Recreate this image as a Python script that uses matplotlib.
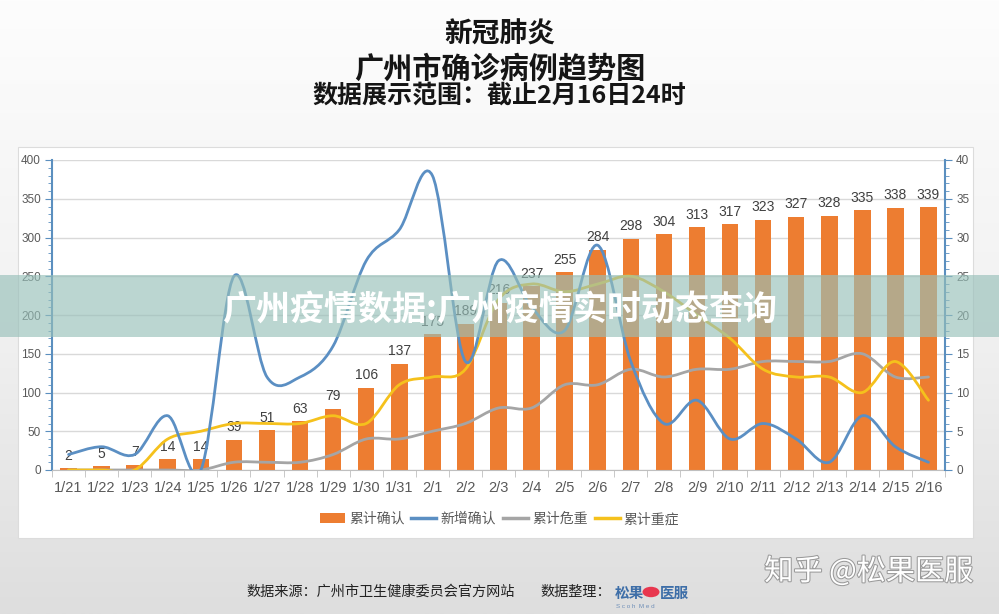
import numpy as np
import matplotlib
matplotlib.use('Agg')
import matplotlib.pyplot as plt
from matplotlib.path import Path
from matplotlib.patches import PathPatch, Rectangle, Circle, Patch
from matplotlib.lines import Line2D
from matplotlib.ticker import MultipleLocator
from matplotlib.colors import LinearSegmentedColormap
import matplotlib.patheffects as pe

plt.rcParams['font.family'] = ['Liberation Sans', 'Noto Sans CJK SC', 'DejaVu Sans']

dates = ['1/21', '1/22', '1/23', '1/24', '1/25', '1/26', '1/27', '1/28', '1/29',
         '1/30', '1/31', '2/1', '2/2', '2/3', '2/4', '2/5', '2/6', '2/7', '2/8',
         '2/9', '2/10', '2/11', '2/12', '2/13', '2/14', '2/15', '2/16']
total_confirmed = [2, 5, 7, 14, 14, 39, 51, 63, 79, 106, 137, 175, 189, 216, 237,
                   255, 284, 298, 304, 313, 317, 323, 327, 328, 335, 338, 339]
new_confirmed = [2, 3, 2, 7, 0, 25, 12, 12, 16, 27, 31, 38, 14, 27, 21, 18, 29,
                 14, 6, 9, 4, 6, 4, 1, 7, 3, 1]
total_critical = [0, 0, 0, 0, 0, 1, 1, 1, 2, 4, 4, 5, 6, 8, 8, 11, 11, 13, 12,
                  13, 13, 14, 14, 14, 15, 12, 12]
total_severe = [0, 0, 0, 4, 5, 6, 6, 6, 7, 6, 11, 12, 13, 22, 24, 23, 24, 25, 23,
                20, 17, 13, 12, 12, 10, 14, 9]

legend_labels = ['累计确认', '新增确认', '累计危重', '累计重症']
c_bar = '#ed7d31'
c_new = '#5b8fc3'
c_crit = '#a5a5a5'
c_sev = '#f5c11c'
c_axis = '#5b8fbf'
c_tick = '#595959'


def smooth_path(xs, ys):
    # Catmull-Rom style curve, like the "smoothed line" option of office charts
    pts = np.column_stack([xs, ys]).astype(float)
    ext = np.vstack([pts[0], pts, pts[-1]])
    verts = [pts[0]]
    codes = [Path.MOVETO]
    for i in range(len(pts) - 1):
        p0, p1, p2, p3 = ext[i], ext[i + 1], ext[i + 2], ext[i + 3]
        verts += [p1 + (p2 - p0) / 6, p2 - (p3 - p1) / 6, p2]
        codes += [Path.CURVE4] * 3
    return Path(verts, codes)


fig = plt.figure(figsize=(9.99, 6.14), dpi=100)

# background gradient
bg = fig.add_axes([0, 0, 1, 1], zorder=-10)
grad = np.linspace(0, 1, 256).reshape(-1, 1)
bg.imshow(grad, cmap=LinearSegmentedColormap.from_list('bg', ['#fdfdfd', '#f2f2f2', '#dedede']),
          aspect='auto', extent=[0, 1, 0, 1], origin='upper')
bg.axis('off')

# white chart panel
fig.add_artist(Rectangle((18 / 999, 1 - 538 / 614), 955 / 999, 391 / 614,
                         transform=fig.transFigure, facecolor='white',
                         edgecolor='#dcdcdc', lw=0.8, zorder=-5))

# titles
fig.text(0.5, 1 - 35 / 614, '新冠肺炎', ha='center', va='center', fontsize=20,
         fontweight='bold', color='#151515', family=['Noto Sans CJK SC'])
fig.text(0.5, 1 - 69 / 614, '广州市确诊病例趋势图', ha='center', va='center', fontsize=21,
         fontweight='bold', color='#151515', family=['Noto Sans CJK SC'])
fig.text(0.5, 1 - 96 / 614, '数据展示范围：截止2月16日24时', ha='center', va='center', fontsize=18,
         fontweight='bold', color='#151515', family=['Noto Sans CJK SC'])

ax = fig.add_axes([52 / 999, 1 - 470 / 614, 893 / 999, 310 / 614])
ax.patch.set_alpha(0)
ax2 = ax.twinx()

x = np.arange(len(dates))
ax.bar(x, total_confirmed, width=0.5, color=c_bar, zorder=2)
for i, v in enumerate(total_confirmed):
    ax.annotate(str(v), (x[i], v), xytext=(0, 4), textcoords='offset points',
                ha='center', va='bottom', fontsize=10, color='#404040', zorder=3)

ax.set_xlim(-0.5, len(dates) - 0.5)
ax.set_ylim(0, 400)
ax.set_yticks(range(0, 401, 50))
ax.yaxis.set_minor_locator(MultipleLocator(10))
ax.yaxis.grid(True, color='#d9d9d9', lw=1)
ax.set_axisbelow(True)
ax.set_xticks(x)
ax.set_xticklabels(dates)
ax.set_xticks(np.arange(-0.5, len(dates), 1), minor=True)
ax.tick_params(axis='x', which='major', length=0, pad=8, labelsize=10.5, labelcolor=c_tick)
ax.tick_params(axis='x', which='minor', length=5, color='#bfbfbf', direction='out')
ax.tick_params(axis='y', which='major', length=5, color=c_axis, labelsize=8.5,
               labelcolor=c_tick, pad=3)
ax.tick_params(axis='y', which='minor', length=3, color=c_axis)
ax.spines['left'].set_color(c_axis)
ax.spines['left'].set_linewidth(1.5)
ax.spines['bottom'].set_color('#bfbfbf')
ax.spines['top'].set_visible(False)
ax.spines['right'].set_visible(False)

for ys, col in [(total_critical, c_crit), (total_severe, c_sev), (new_confirmed, c_new)]:
    ax2.add_patch(PathPatch(smooth_path(x, ys), facecolor='none', edgecolor=col,
                            lw=2, capstyle='round', joinstyle='round', zorder=3))
ax2.set_ylim(0, 40)
ax2.set_yticks(range(0, 41, 5))
ax2.yaxis.set_minor_locator(MultipleLocator(1))
ax2.tick_params(axis='y', which='major', length=5, color=c_axis, labelsize=8.5,
                labelcolor=c_tick, pad=3)
ax2.tick_params(axis='y', which='minor', length=3, color=c_axis)
ax2.spines['right'].set_color(c_axis)
ax2.spines['right'].set_linewidth(1.5)
for s in ['left', 'top', 'bottom']:
    ax2.spines[s].set_visible(False)

handles = [Patch(facecolor=c_bar),
           Line2D([], [], color=c_new, lw=2.5),
           Line2D([], [], color=c_crit, lw=2.5),
           Line2D([], [], color=c_sev, lw=2.5)]
fig.legend(handles, legend_labels, loc='center', bbox_to_anchor=(0.5, 1 - 519 / 614),
           ncol=4, frameon=False, fontsize=10, handlelength=1.8, columnspacing=0.5,
           handletextpad=0.3, labelcolor=c_tick)

# translucent banner across the picture
fig.add_artist(Rectangle((0, 1 - 337 / 614), 1, 62 / 614, transform=fig.transFigure,
                         facecolor='#97c0b9', alpha=0.65, edgecolor='none', zorder=10))
fig.text(0.5, 1 - 309 / 614, '广州疫情数据:广州疫情实时动态查询', ha='center', va='center',
         fontsize=24.5, fontweight='bold', color='white', zorder=11,
         family=['Noto Sans CJK SC'])

# footer
fig.text(246 / 999, 1 - 592 / 614, '数据来源：广州市卫生健康委员会官方网站', ha='left',
         va='center', fontsize=10.2, color='#222222', family=['Noto Sans CJK SC'])
fig.text(540 / 999, 1 - 592 / 614, '数据整理：', ha='left', va='center', fontsize=10.2,
         color='#222222', family=['Noto Sans CJK SC'])
fig.text(615 / 999, 1 - 593 / 614, '松果', ha='left', va='center', fontsize=10.5,
         color='#3d6ea8', fontweight='bold', family=['Noto Sans CJK SC'])
fig.add_artist(Circle((651 / 999, 1 - 592 / 614), 0.0085, transform=fig.transFigure,
                      facecolor='#e8374f', edgecolor='none'))
fig.text(660 / 999, 1 - 593 / 614, '医服', ha='left', va='center', fontsize=10.5,
         color='#3d6ea8', fontweight='bold', family=['Noto Sans CJK SC'])
fig.text(616 / 999, 1 - 606 / 614, 'S c o h  M e d', ha='left', va='center', fontsize=4.5,
         color='#6f8fb8')

# watermark
fig.text(973 / 999, 1 - 572 / 614, '知乎 @松果医服', ha='right', va='center', fontsize=21,
         color='white', family=['Noto Sans CJK SC'],
         path_effects=[pe.withStroke(linewidth=1.5, foreground='#9a9a9a')])

fig.savefig('out.png', dpi=100)
